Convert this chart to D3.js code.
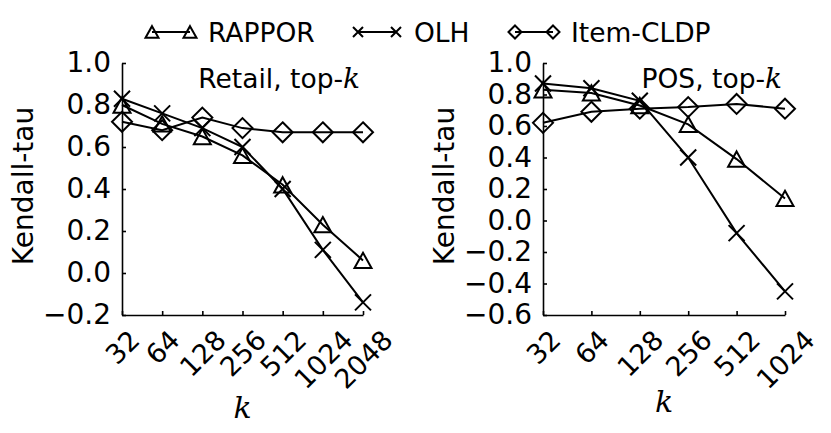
<!DOCTYPE html>
<meta charset="utf-8">
<style>
body { margin: 0; background: #fff; }
text { font-family: "DejaVu Sans", sans-serif; fill: #000; }
.axis path, .axis line { stroke: #000; stroke-width: 1.6px; }
.series path.line { fill: none; stroke: #000; stroke-width: 2px; }
.mark { fill: none; stroke: #000; stroke-width: 2px; }
.mathk { font-family: "DejaVu Serif", serif; font-style: italic; }
</style>
<svg></svg>
<script src="https://d3js.org/d3.v7.min.js"></script>
<script>

// values
var kRetail = [32, 64, 128, 256, 512, 1024, 2048];
var retailRappor = [0.80, 0.71, 0.65, 0.56, 0.42, 0.23, 0.06];
var retailOlh = [0.83, 0.76, 0.69, 0.60, 0.40, 0.11, -0.14];
var retailCldp = [0.72, 0.68, 0.74, 0.69, 0.67, 0.67, 0.67];
var retailYTicks = [-0.2, 0.0, 0.2, 0.4, 0.6, 0.8, 1.0];

var kPos = [32, 64, 128, 256, 512, 1024];
var posRappor = [0.83, 0.81, 0.73, 0.61, 0.39, 0.14];
var posOlh = [0.87, 0.84, 0.76, 0.40, -0.08, -0.45];
var posCldp = [0.62, 0.69, 0.71, 0.72, 0.74, 0.71];
var posYTicks = [-0.6, -0.4, -0.2, 0.0, 0.2, 0.4, 0.6, 0.8, 1.0];

var seriesNames = ["RAPPOR", "OLH", "Item-CLDP"];
var markerTypes = ["triangle", "x", "diamond"];

var width = 831, height = 433;
var svg = d3.select("svg").attr("width", width).attr("height", height);

// marker shapes (matplotlib-like: ^, x, D), r = half width
function markerPath(type, r) {
  var p = d3.path();
  if (type == "triangle") {
    var h = r * 0.9;
    p.moveTo(0, -h); p.lineTo(r, h); p.lineTo(-r, h); p.closePath();
  } else if (type == "x") {
    p.moveTo(-r, -r); p.lineTo(r, r);
    p.moveTo(-r, r); p.lineTo(r, -r);
  } else {
    p.moveTo(0, -r); p.lineTo(r, 0); p.lineTo(0, r); p.lineTo(-r, 0); p.closePath();
  }
  return p.toString();
}
var markerR = {triangle: 8.5, x: 8, diamond: 10};

function drawPanel(cfg) {
  var g = svg.append("g");
  var x = d3.scaleLog().base(2).domain(d3.extent(cfg.ks)).range([cfg.left, cfg.right]);
  var y = d3.scaleLinear().domain(d3.extent(cfg.yTicks)).range([cfg.bottom, cfg.top]);

  var fmt = function(d) { return d3.format(".1f")(d).replace("-", "\u2212"); };

  var yAxis = g.append("g")
      .attr("class", "axis")
      .attr("transform", "translate(" + cfg.left + ",0)")
      .call(d3.axisLeft(y).tickValues(cfg.yTicks).tickFormat(fmt)
        .tickSizeInner(-4).tickSizeOuter(0).tickPadding(11));
  yAxis.selectAll("text").style("font-size", "28px");

  var xAxis = g.append("g")
      .attr("class", "axis")
      .attr("transform", "translate(0," + cfg.bottom + ")")
      .call(d3.axisBottom(x).tickValues(cfg.ks).tickFormat(d3.format("d"))
        .tickSizeInner(-4).tickSizeOuter(0).tickPadding(0));
  var fs = 27;
  xAxis.selectAll("text")
      .style("font-size", fs + "px")
      .attr("text-anchor", "middle")
      .attr("y", 0).attr("dy", "0.35em")
      .attr("transform", function() {
        var w = this.getComputedTextLength();
        var c = 9 + (w + 1.164 * fs) * 0.7071 / 2;
        return "translate(0," + c + ") rotate(-45)";
      });
  g.selectAll(".axis").attr("font-family", null);

  // lines and markers
  cfg.series.forEach(function(vals, i) {
    var pts = cfg.ks.map(function(k, j) { return [k, vals[j]]; });
    var s = g.append("g").attr("class", "series");
    s.append("path")
        .attr("class", "line")
        .attr("d", d3.line().x(function(d) { return x(d[0]); }).y(function(d) { return y(d[1]); })(pts));
    s.selectAll("path.mark")
        .data(pts)
        .enter().append("path")
        .attr("class", "mark")
        .attr("transform", function(d) { return "translate(" + x(d[0]) + "," + y(d[1]) + ")"; })
        .attr("d", markerPath(markerTypes[i], markerR[markerTypes[i]]));
  });

  // y label
  g.append("text")
      .attr("transform", "translate(" + cfg.ylabelX + "," + ((cfg.top + cfg.bottom) / 2 - 3) + ") rotate(-90)")
      .attr("text-anchor", "middle")
      .style("font-size", "28px")
      .text("Kendall-tau");

  // x label
  g.append("text")
      .attr("class", "mathk")
      .attr("x", (cfg.left + cfg.right) / 2)
      .attr("y", cfg.xlabelY)
      .attr("text-anchor", "middle")
      .style("font-size", "30px")
      .text("k");

  // panel title
  var t = g.append("text")
      .attr("x", cfg.right - 3)
      .attr("y", 88)
      .attr("text-anchor", "end")
      .style("font-size", "26.5px");
  t.append("tspan").text(cfg.title + ", top-");
  t.append("tspan").attr("class", "mathk").style("font-size", "28px").text("k");
}

drawPanel({
  ks: kRetail, series: [retailRappor, retailOlh, retailCldp], yTicks: retailYTicks,
  left: 122, right: 363, top: 63, bottom: 315,
  ylabelX: 33, xlabelY: 418, title: "Retail"
});

drawPanel({
  ks: kPos, series: [posRappor, posOlh, posCldp], yTicks: posYTicks,
  left: 543, right: 785, top: 63, bottom: 315,
  ylabelX: 454, xlabelY: 412, title: "POS"
});

// legend
var legendX = [152, 358, 515];
var legend = svg.append("g");
seriesNames.forEach(function(name, i) {
  var lg = legend.append("g").attr("transform", "translate(" + legendX[i] + ",32)");
  lg.append("line").attr("x1", 0).attr("x2", 38).attr("y1", 0).attr("y2", 0)
      .attr("stroke", "#000").attr("stroke-width", 2);
  [0, 38].forEach(function(px) {
    lg.append("path").attr("class", "mark")
        .attr("transform", "translate(" + px + ",0)")
        .attr("d", markerPath(markerTypes[i], markerTypes[i] == "x" ? 5 : 6.5));
  });
  lg.append("text")
      .attr("x", 56).attr("y", 9.5)
      .style("font-size", "26.5px")
      .text(name);
});

</script>
